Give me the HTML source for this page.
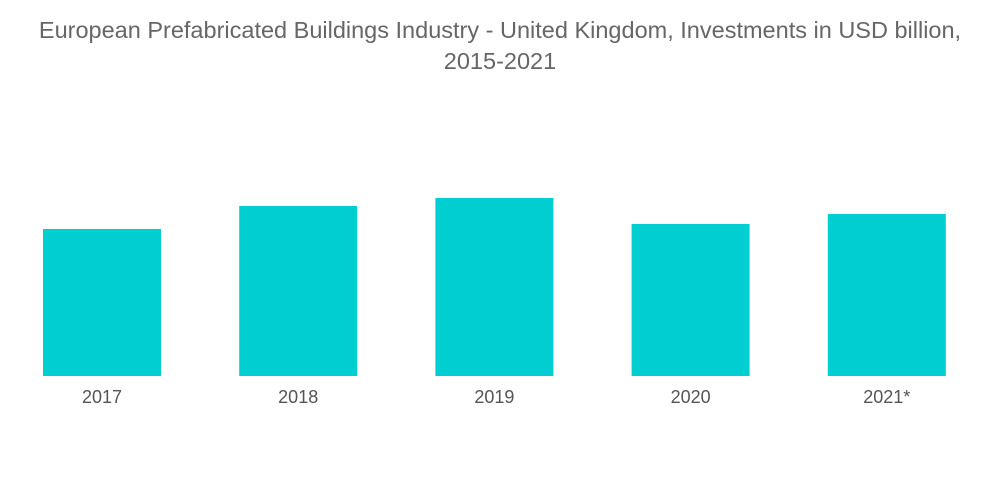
<!DOCTYPE html>
<html>
<head>
<meta charset="utf-8">
<style>
  html, body { margin: 0; padding: 0; background: #ffffff; }
  body { width: 1000px; height: 504px; overflow: hidden; position: relative; font-family: "Liberation Sans", sans-serif; }
  #title { position: absolute; left: 0; top: 15px; width: 1000px; text-align: center; color: #666666; font-size: 23.5px; line-height: 31px; letter-spacing: 0px; }
  svg { position: absolute; left: 0; top: 0; }
</style>
</head>
<body>
<div id="title">European Prefabricated Buildings Industry - United Kingdom, Investments in USD billion,<br>2015-2021</div>
<svg id="chart" width="1000" height="504"></svg>
<script>
const categories = ["2017", "2018", "2019", "2020", "2021*"];
const values = [14.7, 17.0, 17.8, 15.2, 16.2];

const svg = document.getElementById('chart');
const NS = 'http://www.w3.org/2000/svg';
const plotLeft = 43, plotRight = 946, baseline = 376;
const yMax = 25, plotTop = 126;
const band = (plotRight - plotLeft + (196 - 118)) / categories.length;
const barW = 118;
function xPos(i) { return plotLeft + i * band; }
function yPos(v) { return baseline - (v / yMax) * (baseline - plotTop); }

categories.forEach((c, i) => {
  const r = document.createElementNS(NS, 'rect');
  const y = yPos(values[i]);
  r.setAttribute('x', xPos(i));
  r.setAttribute('y', y);
  r.setAttribute('width', barW);
  r.setAttribute('height', baseline - y);
  r.setAttribute('fill', '#00ced1');
  
  
  svg.appendChild(r);

  const t = document.createElementNS(NS, 'text');
  t.setAttribute('x', xPos(i) + barW / 2);
  t.setAttribute('y', 403);
  t.setAttribute('text-anchor', 'middle');
  t.setAttribute('font-size', '18');
  t.setAttribute('fill', '#555555');
  t.setAttribute('font-family', 'Liberation Sans, sans-serif');
  t.textContent = c;
  
  
  svg.appendChild(t);
});
</script>
</body>
</html>
